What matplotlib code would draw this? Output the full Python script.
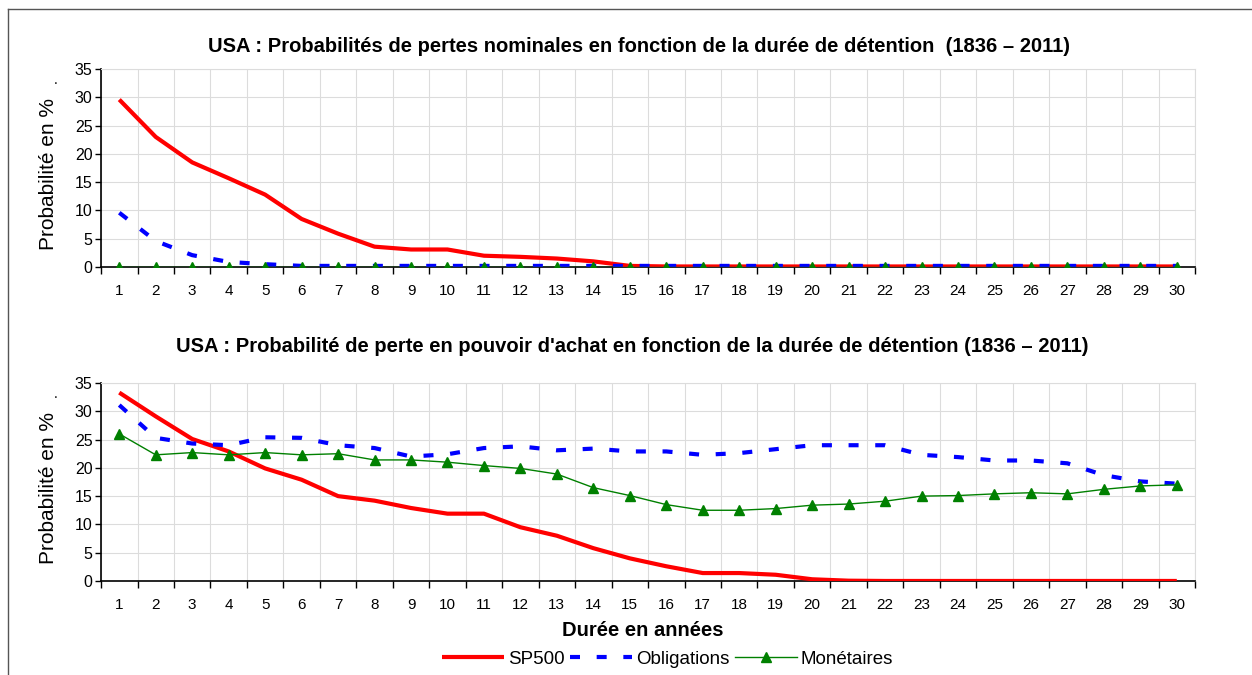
import numpy as np
import matplotlib
matplotlib.use('Agg')
import matplotlib.pyplot as plt
from matplotlib.lines import Line2D

plt.rcParams['font.family'] = ['Liberation Sans', 'DejaVu Sans']

# Durée de détention (années)
years = list(range(1, 31))

# Pertes nominales (%)
sp500_nom = [29.6, 23.0, 18.5, 15.7, 12.8, 8.5, 5.9, 3.6, 3.1, 3.1, 2.0, 1.8, 1.5, 1.0, 0.2,
             0.1, 0.1, 0.1, 0.1, 0.1, 0.1, 0.1, 0.1, 0.1, 0.1, 0.1, 0.1, 0.1, 0.1, 0.1]
oblig_nom = [9.6, 4.6, 2.1, 0.9, 0.5, 0.2, 0.2, 0.2, 0.2, 0.2, 0.2, 0.2, 0.2, 0.2, 0.2,
             0.2, 0.2, 0.2, 0.2, 0.2, 0.2, 0.2, 0.2, 0.2, 0.2, 0.2, 0.2, 0.2, 0.2, 0.2]
monet_nom = [0.0] * 30

# Pertes en pouvoir d'achat (%)
sp500_real = [33.3, 29.1, 25.1, 22.9, 19.9, 17.9, 15.0, 14.2, 12.9, 11.9, 11.9, 9.5, 8.0, 5.8, 4.0,
              2.6, 1.4, 1.4, 1.1, 0.3, 0.05, 0, 0, 0, 0, 0, 0, 0, 0, 0]
oblig_real = [31.1, 25.3, 24.3, 24.0, 25.4, 25.3, 24.0, 23.5, 22.0, 22.4, 23.5, 23.8, 23.1, 23.4, 22.9,
              22.9, 22.3, 22.6, 23.3, 24.0, 24.0, 24.0, 22.3, 21.9, 21.3, 21.3, 20.8, 18.7, 17.6, 17.2]
monet_real = [26.0, 22.3, 22.7, 22.3, 22.7, 22.3, 22.5, 21.4, 21.4, 21.0, 20.4, 19.9, 18.9, 16.5, 15.1,
              13.5, 12.5, 12.5, 12.8, 13.4, 13.6, 14.1, 15.0, 15.1, 15.4, 15.6, 15.4, 16.2, 16.8, 17.0]

titles = ["USA : Probabilités de pertes nominales en fonction de la durée de détention  (1836 \u2013 2011)",
          "USA : Probabilité de perte en pouvoir d'achat en fonction de la durée de détention (1836 \u2013 2011)"]

fig = plt.figure(figsize=(12.52, 6.75), dpi=100)
ax1 = fig.add_axes([0.0807, 0.6044, 0.8738, 0.2933])
ax2 = fig.add_axes([0.0807, 0.1393, 0.8738, 0.2933])

datasets = [(sp500_nom, oblig_nom, monet_nom), (sp500_real, oblig_real, monet_real)]

for ax, (sp, ob, mo), title, tpad, tx in zip([ax1, ax2], datasets, titles, [12, 22], [0.492, 0.486]):
    ax.plot(years, sp, color='#ff0000', lw=3, solid_capstyle='butt', label='SP500', zorder=3)
    ax.plot(years, ob, color='#0000ff', lw=3, dashes=(2.4, 4.0), dash_capstyle='butt',
            label='Obligations', zorder=4)
    ax.plot(years, mo, color='#008000', lw=1, marker='^', markersize=7.5, label='Monétaires', zorder=5)
    ax.set_xlim(0.5, 30.5)
    ax.set_ylim(0, 35)
    ax.set_yticks(range(0, 36, 5))
    ax.set_xticks(years)
    ax.set_xticks(np.arange(0.5, 31, 1), minor=True)
    ax.tick_params(axis='x', which='major', length=0, pad=12, labelsize=11)
    ax.tick_params(axis='x', which='minor', length=5, width=1, direction='out')
    ax.tick_params(axis='y', length=4, width=1, labelsize=11.5, pad=2)
    ax.grid(True, which='minor', axis='x', color='#dcdcdc', lw=0.8)
    ax.grid(True, which='major', axis='y', color='#dcdcdc', lw=0.8)
    ax.set_axisbelow(True)
    for s in ['top', 'right']:
        ax.spines[s].set_color('#dcdcdc')
        ax.spines[s].set_linewidth(0.8)
    for s in ['left', 'bottom']:
        ax.spines[s].set_linewidth(1.2)
    ax.set_ylabel('Probabilité en %', fontsize=15)
    ax.yaxis.set_label_coords(-0.039, 0.47)
    ax.set_title(title, fontsize=14.5, fontweight='bold', pad=tpad, x=tx)
    ax.text(-0.043, 0.924, '.', transform=ax.transAxes, fontsize=10)

ax2.set_xlabel('Durée en années', fontsize=14.5, fontweight='bold', labelpad=5)
ax2.xaxis.set_label_coords(0.495, -0.2)
ax2.legend(loc='upper center', bbox_to_anchor=(0.518, -0.315), ncol=3, frameon=False,
           fontsize=13.5, handlelength=3.3, columnspacing=0.3, handletextpad=0.2,
           borderaxespad=0)

# cadre
fig.add_artist(Line2D([8 / 1252, 8 / 1252], [0, 1 - 9 / 675], color='#555555', lw=1))
fig.add_artist(Line2D([8 / 1252, 1], [1 - 9 / 675, 1 - 9 / 675], color='#555555', lw=1))

plt.savefig('out.png', dpi=100)
